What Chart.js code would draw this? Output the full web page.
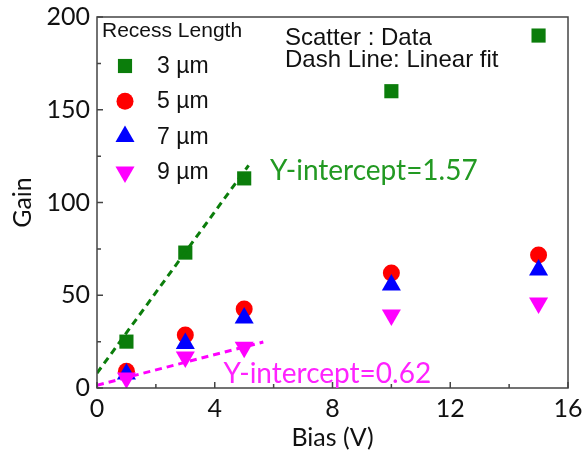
<!DOCTYPE html>
<html>
<head>
<meta charset="utf-8">
<script src="https://cdn.jsdelivr.net/npm/chart.js@4"></script>
<style>
  html, body { margin: 0; padding: 0; background: #fff; }
  #wrap { width: 584px; height: 456px; }
</style>
</head>
<body>
<div id="wrap"><canvas id="gainChart"></canvas></div>
<script>
const biasV = [1, 3, 5, 10, 15];
const gain3um = [25, 73, 113, 160, 190];
const gain5um = [9, 28.6, 42.6, 62, 71.7];
const gain7um = [7.5, 24, 37.7, 55.5, 63.6];
const gain9um = [5.4, 16.7, 22, 39.4, 45.8];
const fit3umX = [0, 5.15];
const fit3umY = [8, 120];
const fit9umX = [0, 5.65];
const fit9umY = [1.5, 24.8];
const xTicks = [0, 4, 8, 12, 16];
const yTicks = [0, 50, 100, 150, 200];
const legendTitle = 'Recess Length';
const seriesLabels = ['3 µm', '5 µm', '7 µm', '9 µm'];
const notes = ['Scatter : Data', 'Dash Line: Linear fit'];
const interceptLabels = ['Y-intercept=1.57', 'Y-intercept=0.62'];
const interceptAt = [{ x: 5.88, y: 117 }, { x: 4.3, y: 7.5 }];

const GREEN = '#0b7d0b';
const RED = '#ff0000';
const BLUE = '#0000ff';
const MAGENTA = '#ff00ff';
const AXIS = '#444444';

const pts = (xs, ys) => xs.map((x, i) => ({ x, y: ys[i] }));

const markerStyles = [
  { pointStyle: 'rect', radius: 10, rotation: 0, color: GREEN },
  { pointStyle: 'circle', radius: 8.5, rotation: 0, color: RED },
  { pointStyle: 'triangle', radius: 11, rotation: 0, color: BLUE },
  { pointStyle: 'triangle', radius: 11, rotation: 180, color: MAGENTA }
];

function scatterSet(i, values) {
  const s = markerStyles[i];
  return {
    type: 'scatter',
    label: seriesLabels[i],
    data: pts(biasV, values),
    pointStyle: s.pointStyle,
    pointRotation: s.rotation,
    pointRadius: s.radius,
    pointHoverRadius: s.radius,
    backgroundColor: s.color,
    borderColor: s.color,
    borderWidth: 0,
    order: 10 - i
  };
}

function fitSet(xs, ys, color) {
  return {
    type: 'line',
    data: pts(xs, ys),
    borderColor: color,
    borderWidth: 3,
    borderDash: [7, 5],
    pointRadius: 0,
    fill: false,
    order: 1
  };
}

const framePlugin = {
  id: 'frameAndNotes',
  afterDraw(chart) {
    const { ctx, chartArea: a, scales: { x, y } } = chart;
    ctx.save();
    ctx.strokeStyle = AXIS;
    ctx.lineWidth = 1.5;
    ctx.strokeRect(a.left, a.top, a.right - a.left, a.bottom - a.top);
    ctx.beginPath();
    xTicks.forEach((v, i) => {
      const px = x.getPixelForValue(v);
      ctx.moveTo(px, a.bottom); ctx.lineTo(px, a.bottom - 6);
      if (i < xTicks.length - 1) {
        const m = x.getPixelForValue((v + xTicks[i + 1]) / 2);
        ctx.moveTo(m, a.bottom); ctx.lineTo(m, a.bottom - 4);
      }
    });
    yTicks.forEach((v, i) => {
      const py = y.getPixelForValue(v);
      ctx.moveTo(a.left, py); ctx.lineTo(a.left + 6, py);
      if (i < yTicks.length - 1) {
        const m = y.getPixelForValue((v + yTicks[i + 1]) / 2);
        ctx.moveTo(a.left, m); ctx.lineTo(a.left + 4, m);
      }
    });
    ctx.stroke();

    // legend
    ctx.fillStyle = '#111';
    ctx.textBaseline = 'alphabetic';
    ctx.textAlign = 'left';
    ctx.font = '21px "Liberation Sans", Arial, sans-serif';
    ctx.fillText(legendTitle, a.left + 5, a.top + 20);
    ctx.font = '23px "Liberation Sans", Arial, sans-serif';
    seriesLabels.forEach((label, i) => {
      const s = markerStyles[i];
      const cy = a.top + 49 + i * 35.3;
      ctx.fillStyle = s.color;
      Chart.helpers.drawPoint(ctx, { pointStyle: s.pointStyle, radius: s.radius, rotation: s.rotation, borderWidth: 0 }, a.left + 28, cy);
      ctx.fillStyle = '#111';
      ctx.fillText(label, a.left + 60, cy + 7);
    });

    // notes
    ctx.font = '24px "Liberation Sans", Arial, sans-serif';
    ctx.fillText(notes[0], a.left + 188, a.top + 28);
    ctx.fillText(notes[1], a.left + 188, a.top + 50);

    // intercept labels
    ctx.font = '28px Lato, "Open Sans", sans-serif';
    ctx.textBaseline = 'middle';
    ctx.fillStyle = '#229922';
    ctx.fillText(interceptLabels[0], x.getPixelForValue(interceptAt[0].x), y.getPixelForValue(interceptAt[0].y));
    ctx.fillStyle = '#ff22ff';
    ctx.fillText(interceptLabels[1], x.getPixelForValue(interceptAt[1].x), y.getPixelForValue(interceptAt[1].y));
    ctx.restore();
  }
};

new Chart(document.getElementById('gainChart'), {
  data: {
    datasets: [
      scatterSet(0, gain3um),
      scatterSet(1, gain5um),
      scatterSet(2, gain7um),
      scatterSet(3, gain9um),
      fitSet(fit3umX, fit3umY, GREEN),
      fitSet(fit9umX, fit9umY, MAGENTA)
    ]
  },
  plugins: [framePlugin],
  options: {
    responsive: true,
    maintainAspectRatio: false,
    animation: false,
    layout: { padding: { top: 17, right: 16, left: 0, bottom: 0 } },
    plugins: { legend: { display: false }, tooltip: { enabled: false } },
    scales: {
      x: {
        type: 'linear',
        min: 0,
        max: 16,
        afterBuildTicks(scale) { scale.ticks = xTicks.map(v => ({ value: v })); },
        afterFit(scale) { scale.height = 68; scale.paddingLeft = 0; scale.paddingRight = 0; },
        grid: { display: false, drawTicks: false },
        border: { display: false },
        ticks: { padding: 6, color: '#111', font: { family: 'Lato', size: 25 } },
        title: { display: true, text: 'Bias (V)', color: '#111', padding: { top: 0, bottom: 3 }, font: { family: 'Lato', size: 25 } }
      },
      y: {
        type: 'linear',
        min: 0,
        max: 200,
        afterBuildTicks(scale) { scale.ticks = yTicks.map(v => ({ value: v })); },
        afterFit(scale) { scale.width = 97; scale.paddingTop = 0; scale.paddingBottom = 0; },
        grid: { display: false, drawTicks: false },
        border: { display: false },
        ticks: { padding: 7, color: '#111', font: { family: 'Lato', size: 25 } },
        title: { display: true, text: 'Gain', color: '#111', padding: { top: 8, bottom: 0 }, font: { family: 'Lato', size: 25 } }
      }
    }
  }
});
</script>
</body>
</html>
